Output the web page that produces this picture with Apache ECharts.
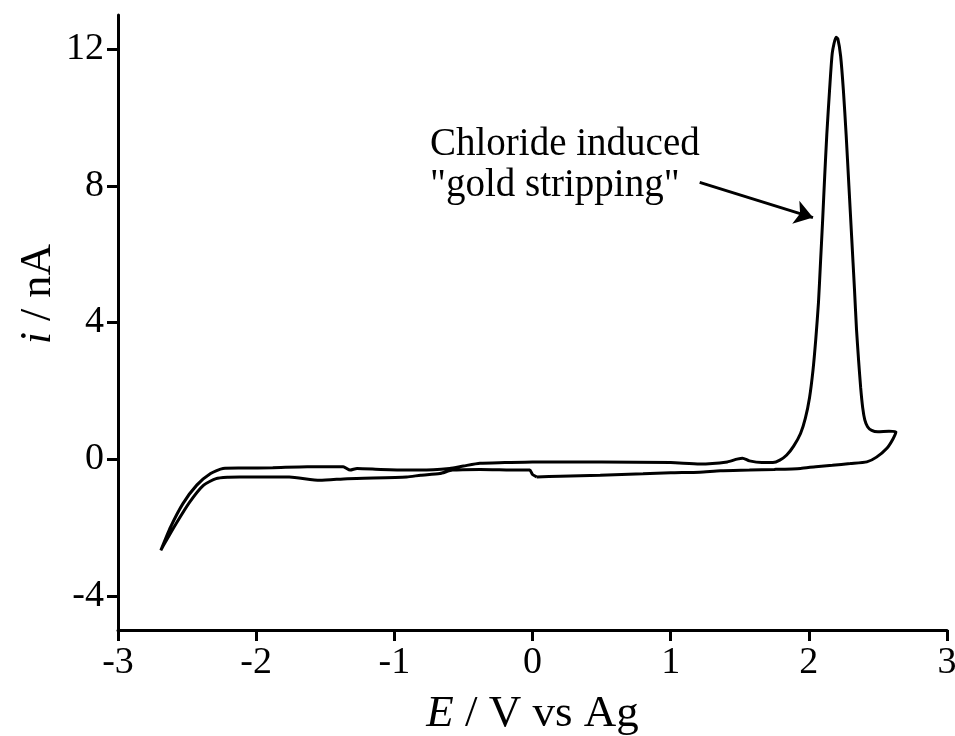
<!DOCTYPE html>
<html>
<head>
<meta charset="utf-8">
<title>Cyclic voltammogram</title>
<script src="https://cdn.jsdelivr.net/npm/echarts@6/dist/echarts.min.js"></script>
<style>
  html, body { margin: 0; padding: 0; background: #fff; }
  #chart { width: 955px; height: 736px; }
</style>
</head>
<body>
<div id="chart"></div>
<script>
// Potential sweep, in loop order: forward (positive) scan from 0 V,
// reverse scan through the stripping peak down to the cathodic limit,
// then back up to the starting potential.
const forwardE = [0.03, 0.2, 0.49, 0.8, 1.0, 1.21, 1.36, 1.57, 1.75, 1.94, 2.05, 2.17, 2.3, 2.42, 2.49, 2.565, 2.61, 2.63];
const forwardI = [-0.52, -0.5, -0.47, -0.43, -0.4, -0.38, -0.34, -0.32, -0.3, -0.27, -0.22, -0.18, -0.13, -0.08, 0.06, 0.32, 0.6, 0.8];

const reverseE = [2.58, 2.5, 2.455, 2.425, 2.405, 2.39, 2.375, 2.36, 2.345, 2.33, 2.31, 2.29, 2.27, 2.25, 2.23, 2.21, 2.197,
  2.17, 2.15, 2.13, 2.115, 2.1, 2.085, 2.07, 2.05, 2.03, 2.005, 1.975, 1.94, 1.89, 1.84, 1.79, 1.74,
  1.66, 1.57, 1.52, 1.48, 1.41, 1.21,
  1.0, 0.5, 0.0, -0.2, -0.38, -0.5, -0.6, -0.81, -0.91, -1.1, -1.27, -1.32, -1.37, -1.63, -1.88, -2.1, -2.24,
  -2.33, -2.43, -2.53, -2.62, -2.69];
const reverseI = [0.82, 0.8, 0.84, 0.95, 1.15, 1.5, 2.1, 2.9, 3.8, 5.0, 6.5, 8.0, 9.5, 10.8, 11.8, 12.3, 12.35,
  11.9, 10.8, 9.5, 8.3, 7.0, 5.8, 4.6, 3.5, 2.6, 1.8, 1.2, 0.75, 0.38, 0.12, -0.03, -0.1,
  -0.1, -0.05, 0.03, 0.0, -0.08, -0.14,
  -0.1, -0.08, -0.08, -0.1, -0.12, -0.2, -0.27, -0.32, -0.32, -0.3, -0.27, -0.32, -0.22, -0.22, -0.25, -0.26, -0.27,
  -0.42, -0.76, -1.3, -1.99, -2.67];

const returnE = [-2.66, -2.58, -2.48, -2.38, -2.29, -2.2, -2.12, -1.76, -1.54, -1.34, -0.91, -0.81, -0.67, -0.58, -0.38, -0.1, -0.02, 0.0, 0.03];
const returnI = [-2.45, -1.89, -1.25, -0.76, -0.57, -0.53, -0.52, -0.52, -0.62, -0.57, -0.52, -0.47, -0.42, -0.32, -0.3, -0.32, -0.32, -0.45, -0.52];

// Axis ticks
const xTicks = [-3, -2, -1, 0, 1, 2, 3];
const yTicks = [-4, 0, 4, 8, 12];

// Annotation: arrow from the label to the stripping peak
const arrowFrom = [1.21, 8.1];
const arrowTo = [2.03, 7.07];
const noteLines = ['Chloride induced', '"gold stripping"'];

const pairs = (xs, ys) => xs.map((x, k) => [x, ys[k]]);
const loop = [].concat(pairs(forwardE, forwardI), pairs(reverseE, reverseI), pairs(returnE, returnI));

const serif = '"Liberation Serif", "Times New Roman", serif';
const ink = '#000';

const chart = echarts.init(document.getElementById('chart'), null, { renderer: 'canvas' });

chart.setOption({
  animation: false,
  backgroundColor: '#fff',
  grid: { left: 118, right: 8, top: 15, bottom: 106, containLabel: false, outerBoundsMode: 'none' },
  xAxis: {
    type: 'value',
    min: xTicks[0],
    max: xTicks[xTicks.length - 1],
    interval: 1,
    name: '{it|E} / V vs Ag',
    nameLocation: 'middle',
    nameGap: 62,
    nameTextStyle: {
      color: ink, fontFamily: serif, fontSize: 45,
      rich: { it: { fontStyle: 'italic', fontFamily: serif, fontSize: 45, color: ink } }
    },
    axisLine: { onZero: false, lineStyle: { color: ink, width: 3 } },
    axisTick: { show: true, inside: false, length: 11, lineStyle: { color: ink, width: 3 } },
    axisLabel: { color: ink, fontFamily: serif, fontSize: 38, margin: 14 },
    splitLine: { show: false }
  },
  yAxis: {
    type: 'value',
    min: -5,
    max: 13,
    interval: 1,
    axisLine: { onZero: false, lineStyle: { color: ink, width: 3 } },
    axisTick: { show: true, inside: false, length: 11, customValues: yTicks, lineStyle: { color: ink, width: 3 } },
    axisLabel: { color: ink, fontFamily: serif, fontSize: 38, margin: 14, customValues: yTicks },
    splitLine: { show: false }
  },
  graphic: [
    {
      type: 'text',
      left: 16, top: 244,
      rotation: Math.PI / 2,
      style: {
        text: '{it|i} / nA',
        font: '44px ' + serif,
        fill: ink,
        rich: { it: { fontStyle: 'italic', fontFamily: serif, fontSize: 44, fill: ink } }
      }
    },
    {
      type: 'text',
      left: 430, top: 124,
      style: {
        text: noteLines.join('\n'),
        font: '39px ' + serif,
        lineHeight: 41,
        fill: ink
      }
    }
  ],
  series: [{
    type: 'line',
    data: loop,
    showSymbol: false,
    smooth: 0.2,
    lineStyle: { color: ink, width: 3 },
    markLine: {
      silent: true,
      symbol: ['none', 'arrow'],
      symbolSize: 18,
      label: { show: false },
      lineStyle: { color: ink, width: 3, type: 'solid' },
      data: [[{ coord: arrowFrom }, { coord: arrowTo }]]
    }
  }]
});
</script>
</body>
</html>
